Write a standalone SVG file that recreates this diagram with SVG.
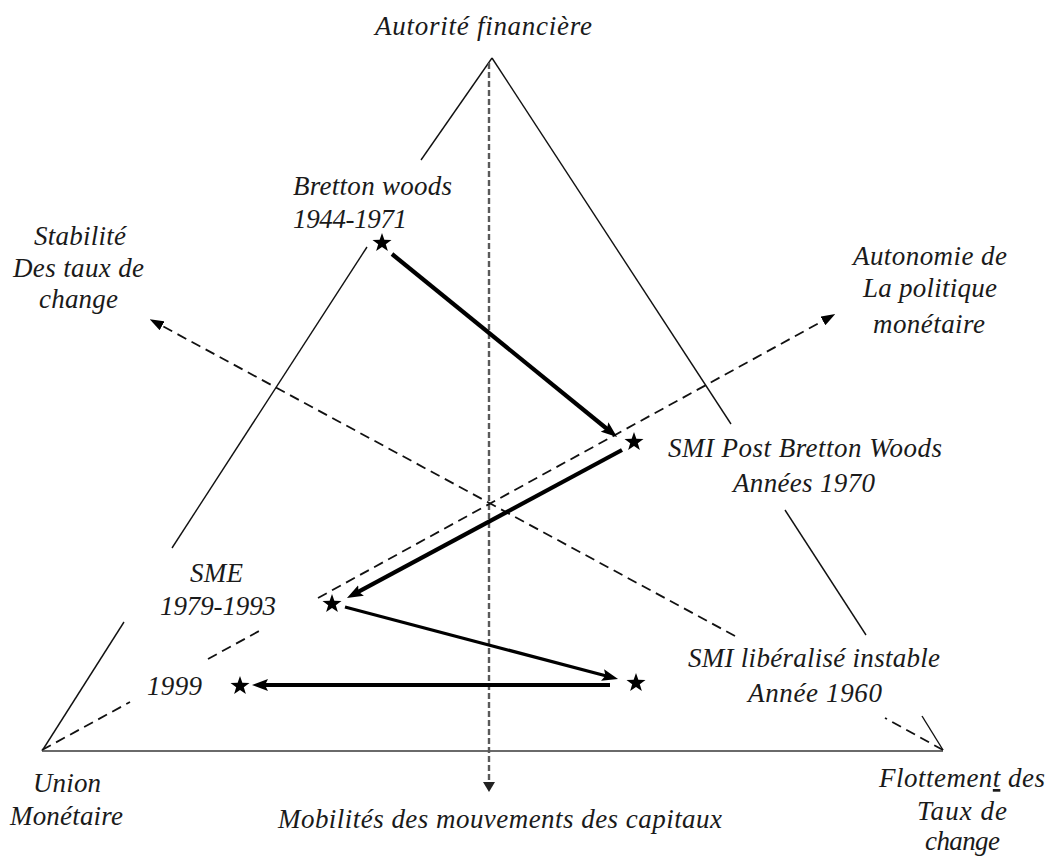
<svg xmlns="http://www.w3.org/2000/svg" xmlns:xlink="http://www.w3.org/1999/xlink" width="1058" height="859" viewBox="0 0 1058 859">
<style>
.lbl{font-family:"Liberation Serif","Times New Roman",serif;font-style:italic;font-size:27px;fill:#1a1a1a}
.edge{stroke:#111;stroke-width:1.4;fill:none}
.base{stroke:#6a6a6a;stroke-width:2.2;fill:none}
.vdash{stroke:#5a5a5a;stroke-width:2.4;stroke-dasharray:6 3;fill:none}
.dash{stroke:#111;stroke-width:1.8;stroke-dasharray:10 6;fill:none}
.thick{stroke:#000;stroke-width:4.2;fill:none}
.mid{stroke:#000;stroke-width:3.2;fill:none}
.star{fill:#000}
</style>
<defs>
<marker id="ah" viewBox="0 0 16 12" refX="8" refY="6" markerWidth="16" markerHeight="12" markerUnits="userSpaceOnUse" orient="auto">
<path d="M0,0 L16,6 L0,12 L3,6 Z" fill="#000"/>
</marker>
<marker id="ahd" viewBox="0 0 14 10" refX="8" refY="5" markerWidth="14" markerHeight="10" markerUnits="userSpaceOnUse" orient="auto">
<path d="M0,0 L14,5 L0,10 Z" fill="#000"/>
</marker>
<marker id="ahv" viewBox="0 0 10 12" refX="2" refY="6" markerWidth="10" markerHeight="12" markerUnits="userSpaceOnUse" orient="auto">
<path d="M0,0 L10,6 L0,12 Z" fill="#222"/>
</marker>
<path id="starShape" d="M0,-10 L2.35,-3.24 L9.51,-3.09 L3.8,1.24 L5.88,8.09 L0,4 L-5.88,8.09 L-3.8,1.24 L-9.51,-3.09 L-2.35,-3.24 Z"/>
</defs>

<g id="triangle">
<line class="edge" x1="492" y1="58" x2="421" y2="160"/>
<line class="edge" x1="367" y1="247" x2="172" y2="548"/>
<line class="edge" x1="124" y1="622" x2="42" y2="751"/>
<line class="edge" x1="492" y1="58" x2="731" y2="424"/>
<line class="edge" x1="785" y1="510" x2="866" y2="635"/>
<line class="edge" x1="922" y1="716" x2="943" y2="750"/>
<line class="base" x1="42" y1="751" x2="943" y2="751"/>
</g>

<g id="connectors">
<line class="vdash" x1="489" y1="63" x2="489" y2="784" marker-end="url(#ahv)"/>
<line class="dash" x1="943" y1="750" x2="885" y2="718"/>
<line class="dash" x1="735" y1="636" x2="155" y2="322" marker-end="url(#ahd)"/>
<line class="dash" x1="42" y1="750" x2="130" y2="702"/>
<line class="dash" x1="208" y1="659" x2="261" y2="630"/>
<line class="dash" x1="318" y1="598" x2="830" y2="317" marker-end="url(#ahd)"/>
<line class="thick" x1="392" y1="254" x2="610.8" y2="432" marker-end="url(#ah)"/>
<line class="thick" x1="622" y1="450" x2="354" y2="594.2" marker-end="url(#ah)"/>
<line class="mid" x1="345" y1="607" x2="610.3" y2="677" marker-end="url(#ah)"/>
<line class="thick" x1="610" y1="685" x2="260" y2="685" marker-end="url(#ah)"/>
</g>

<g id="node-autorite"><text class="lbl" x="375" y="35" textLength="217" lengthAdjust="spacing">Autorité financière</text></g>
<g id="node-bretton">
<use href="#starShape" xlink:href="#starShape" class="star" x="382" y="243"/>
<text class="lbl" x="293" y="195" textLength="159" lengthAdjust="spacing">Bretton woods</text>
<text class="lbl" x="293" y="228" textLength="114" lengthAdjust="spacing">1944-1971</text>
</g>
<g id="node-stabilite">
<text class="lbl" x="34" y="245" textLength="92" lengthAdjust="spacing">Stabilité</text>
<text class="lbl" x="13" y="277" textLength="131" lengthAdjust="spacing">Des taux de</text>
<text class="lbl" x="39" y="308" textLength="79" lengthAdjust="spacing">change</text>
</g>
<g id="node-autonomie">
<text class="lbl" x="853" y="265" textLength="154" lengthAdjust="spacing">Autonomie de</text>
<text class="lbl" x="863" y="297" textLength="134" lengthAdjust="spacing">La politique</text>
<text class="lbl" x="873" y="333" textLength="112" lengthAdjust="spacing">monétaire</text>
</g>
<g id="node-postbw">
<use href="#starShape" xlink:href="#starShape" class="star" x="634" y="442"/>
<text class="lbl" x="668" y="457" textLength="274" lengthAdjust="spacing">SMI Post Bretton Woods</text>
<text class="lbl" x="733" y="492" textLength="142" lengthAdjust="spacing">Années 1970</text>
</g>
<g id="node-sme">
<use href="#starShape" xlink:href="#starShape" class="star" x="332" y="604"/>
<text class="lbl" x="190" y="582" textLength="53" lengthAdjust="spacing">SME</text>
<text class="lbl" x="160" y="615" textLength="116" lengthAdjust="spacing">1979-1993</text>
</g>
<g id="node-smilib">
<use href="#starShape" xlink:href="#starShape" class="star" x="636" y="683"/>
<text class="lbl" x="688" y="667" textLength="252" lengthAdjust="spacing">SMI libéralisé instable</text>
<text class="lbl" x="748" y="702" textLength="134" lengthAdjust="spacing">Année 1960</text>
</g>
<g id="node-1999">
<use href="#starShape" xlink:href="#starShape" class="star" x="240" y="686"/>
<text class="lbl" x="147" y="695" textLength="55" lengthAdjust="spacing">1999</text>
</g>
<g id="node-union">
<text class="lbl" x="33" y="792" textLength="68" lengthAdjust="spacing">Union</text>
<text class="lbl" x="10" y="825" textLength="113" lengthAdjust="spacing">Monétaire</text>
</g>
<g id="node-mobilite">
<text class="lbl" x="278" y="828" textLength="444" lengthAdjust="spacing">Mobilités des mouvements des capitaux</text>
</g>
<g id="node-flottement">
<text class="lbl" x="879" y="787" textLength="166" lengthAdjust="spacing">Flottemen<tspan text-decoration="underline">t</tspan> des</text>
<text class="lbl" x="917" y="820" textLength="90" lengthAdjust="spacing">Taux de</text>
<text class="lbl" x="925" y="850" textLength="75" lengthAdjust="spacing">change</text>
</g>
</svg>
